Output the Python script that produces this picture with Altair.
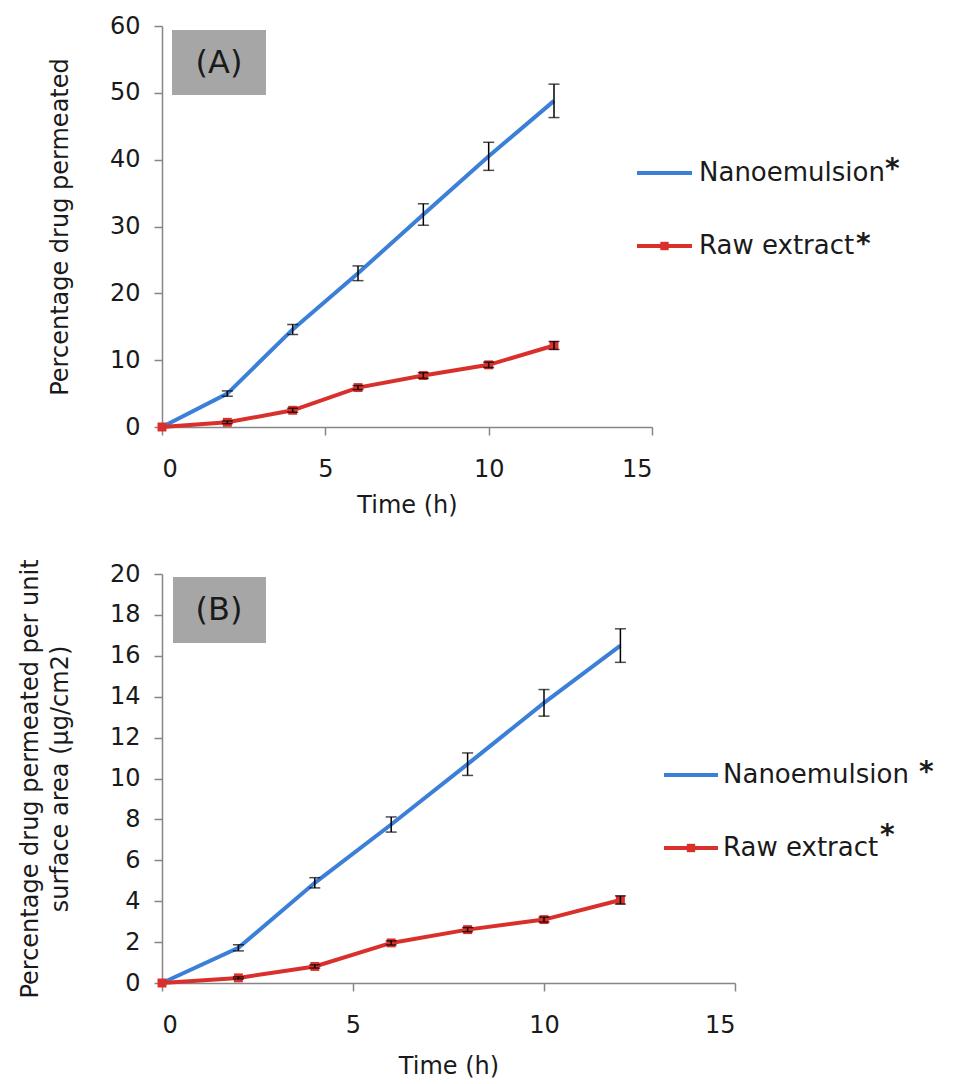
import altair as alt
import pandas as pd

# Sampling times (h)
TIME_H = [0, 2, 4, 6, 8, 10, 12]
SERIES = ["Nanoemulsion", "Raw extract"]
COLORS = ["#3b7fd8", "#d9302c"]

# (A) cumulative percentage of drug permeated
A_NANO = [0, 5.0, 14.6, 23.0, 31.8, 40.5, 48.8]
A_NANO_ERR = [0, 0.4, 0.75, 1.1, 1.6, 2.1, 2.5]
A_RAW = [0, 0.7, 2.5, 5.9, 7.7, 9.3, 12.2]
A_RAW_ERR = [0, 0.2, 0.3, 0.3, 0.4, 0.4, 0.6]

# (B) percentage permeated per unit surface area (µg/cm2)
B_NANO = [0, 1.72, 4.9, 7.75, 10.7, 13.7, 16.5]
B_NANO_ERR = [0, 0.15, 0.25, 0.37, 0.55, 0.65, 0.82]
B_RAW = [0, 0.25, 0.81, 1.96, 2.61, 3.1, 4.06]
B_RAW_ERR = [0, 0.05, 0.08, 0.1, 0.1, 0.12, 0.2]

FONT = "DejaVu Sans"
TEXT = "#1a1a1a"
AXIS = "#868686"


def long_frame(nano, nano_err, raw, raw_err):
    rows = []
    for name, vals, errs in ((SERIES[0], nano, nano_err), (SERIES[1], raw, raw_err)):
        for t, v, e in zip(TIME_H, vals, errs):
            rows.append({"time": t, "series": name, "value": v, "err": e,
                         "lo": v - e, "hi": v + e})
    return pd.DataFrame(rows)


def panel(df, y_max, y_step, w, h, y_title, x_title_pad, tag, box, legend):
    color = alt.Color("series:N", scale=alt.Scale(domain=SERIES, range=COLORS), legend=None)
    x = alt.X("time:Q", scale=alt.Scale(domain=[0, 15], nice=False),
              axis=alt.Axis(values=[0, 5, 10, 15], title="Time (h)",
                            titlePadding=x_title_pad))
    y = alt.Y("value:Q", scale=alt.Scale(domain=[0, y_max], nice=False),
              axis=alt.Axis(values=list(range(0, y_max + 1, y_step)), title=y_title))
    base = alt.Chart(df)

    lines = base.mark_line(strokeWidth=4).encode(x=x, y=y, color=color, order="time:Q")
    squares = base.transform_filter(alt.datum.series == SERIES[1]).mark_square(
        size=80, opacity=1).encode(x="time:Q", y="value:Q", color=color)
    with_err = base.transform_filter(alt.datum.err > 0)
    bars = with_err.mark_rule(color="black", strokeWidth=1.5).encode(
        x="time:Q", y="lo:Q", y2="hi:Q")
    cap_lo = with_err.mark_tick(color="black", size=11, thickness=1.5,
                                orient="horizontal").encode(x="time:Q", y="lo:Q")
    cap_hi = with_err.mark_tick(color="black", size=11, thickness=1.5,
                                orient="horizontal").encode(x="time:Q", y="hi:Q")

    one = alt.Chart(pd.DataFrame({"k": [0]}))
    bx0, bx1, by0, by1, tx, ty = box
    tag_box = one.mark_rect(color="#a6a6a6").encode(
        x=alt.value(bx0), x2=alt.value(bx1), y=alt.value(by0), y2=alt.value(by1))
    tag_txt = one.mark_text(font=FONT, fontSize=32, color=TEXT, align="center",
                            baseline="middle").encode(
        x=alt.value(tx), y=alt.value(ty), text=alt.value(tag))

    layers = [lines, squares, bars, cap_lo, cap_hi, tag_box, tag_txt]

    sx0, sx1, lx, rows = legend
    for i, (ly, ax, ay) in enumerate(rows):
        layers.append(one.mark_rule(color=COLORS[i], strokeWidth=4).encode(
            x=alt.value(sx0), x2=alt.value(sx1), y=alt.value(ly)))
        if i == 1:
            layers.append(one.mark_square(color=COLORS[i], size=70, opacity=1).encode(
                x=alt.value((sx0 + sx1) / 2), y=alt.value(ly)))
        layers.append(one.mark_text(font=FONT, fontSize=26, color=TEXT, align="left",
                                    baseline="middle").encode(
            x=alt.value(lx), y=alt.value(ly), text=alt.value(SERIES[i])))
        layers.append(one.mark_text(font=FONT, fontSize=28, fontWeight="bold",
                                    color=TEXT, align="left", baseline="middle").encode(
            x=alt.value(ax), y=alt.value(ay), text=alt.value("*")))

    return alt.layer(*layers).properties(width=w, height=h)


panel_a = panel(
    long_frame(A_NANO, A_NANO_ERR, A_RAW, A_RAW_ERR), 60, 10, 490, 401,
    "Percentage drug permeated", 12, "(A)",
    (10, 104, 4, 69, 57, 37),
    (475, 530, 537, [(147, 723, 144), (220, 694, 219)]),
)

panel_b = panel(
    long_frame(B_NANO, B_NANO_ERR, B_RAW, B_RAW_ERR), 20, 2, 573, 409,
    ["Percentage drug permeated per unit", "surface area (µg/cm2)"], 17, "(B)",
    (11, 104, 3, 69, 57, 36),
    (502, 556, 561, [(201, 757, 199), (274, 718, 262)]),
)

chart = alt.vconcat(panel_a, panel_b, spacing=41).properties(
    padding={"left": 18, "top": 14, "right": 5, "bottom": 2},
    background="white",
).configure_view(stroke=None).configure_axis(
    grid=False,
    domainColor=AXIS, domainWidth=1.5,
    tickColor=AXIS, tickWidth=1.5, tickSize=8,
    labelFont=FONT, labelFontSize=24, labelColor=TEXT, labelPadding=14,
    titleFont=FONT, titleFontSize=24, titleFontWeight="normal", titleColor=TEXT,
    titleLineHeight=30,
).configure_axisY(titlePadding=37).configure_axisX(labelPadding=22)

chart.save("out.html", embed_options={"renderer": "svg", "actions": False})
